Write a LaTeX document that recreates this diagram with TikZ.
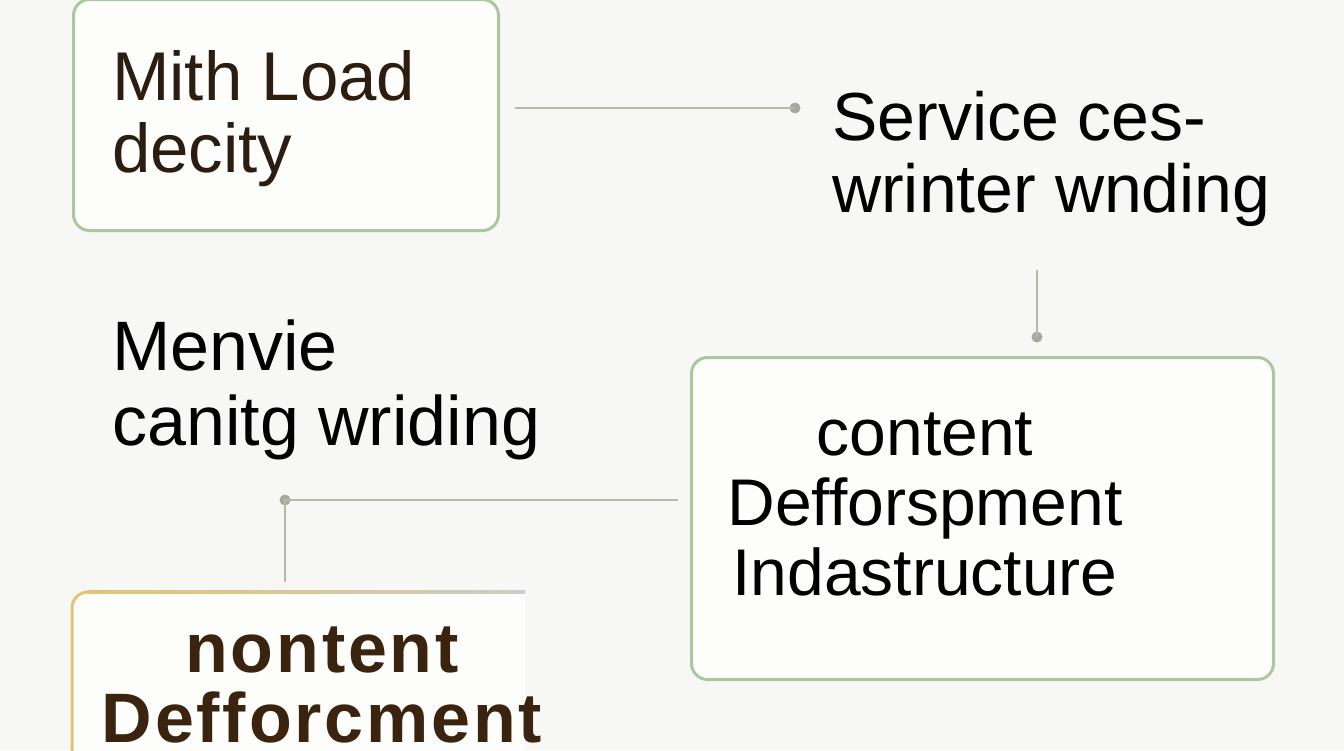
\documentclass[tikz,border=0pt]{standalone}
\usepackage{fontspec}
\setmainfont{Liberation Sans}
\definecolor{bgc}{HTML}{F7F7F5}
\definecolor{boxfill}{HTML}{FDFDFC}
\definecolor{boxgreen}{HTML}{A9C99C}
\definecolor{linegrey}{HTML}{B3BAAB}
\definecolor{dotgrey}{HTML}{A3AA9B}
\definecolor{brownink}{HTML}{2B1D10}
\definecolor{darkbrown}{HTML}{3A2410}
\definecolor{goldc}{HTML}{E2C574}
\begin{document}
\begin{tikzpicture}[x=1pt,y=-1pt,
  gbox/.style={draw=boxgreen, line width=3pt, fill=boxfill, rounded corners=16pt},
  conn/.style={draw=linegrey, line width=1.8pt},
  dotc/.style={circle, fill=dotgrey, inner sep=0pt, minimum size=11pt},
  lbl/.style={inner sep=0pt, align=left},
  lblc/.style={inner sep=0pt, align=center}]
\fill[bgc] (0,0) rectangle (1344,750);
\useasboundingbox (0,0) rectangle (1344,750);
% boxes
\node[gbox, minimum width=425pt, minimum height=231pt, anchor=north west] (b1) at (72,-2) {};
\node[gbox, minimum width=582pt, minimum height=322pt, anchor=north west] (b3) at (690,356) {};
% bottom-left box (open)
\fill[boxfill] (72,760) -- (72,608) arc[start angle=180, end angle=270, radius=16] -- (525,592) -- (525,760) -- cycle;
\draw[goldc, line width=3pt] (72,760) -- (72,608) arc[start angle=180, end angle=270, radius=16] coordinate (b4c);
\shade[left color=goldc, right color=linegrey!70] (87.5,590.5) rectangle (525,593.5);
% texts
\node[lbl, text=brownink, anchor=base west, font=\fontsize{69}{72}\selectfont] (t1) at (112,172) {Mith Load\\decity};
\node[lbl, text=black, anchor=base west, font=\fontsize{68}{72}\selectfont] (t2) at (832,212) {Service ces-\\wrinter wnding};
\node[lbl, text=black, anchor=base west, font=\fontsize{70}{75}\selectfont] (t3) at (112,445) {Menvie\\canitg wriding};
\node[lblc, text=black, anchor=base, font=\fontsize{66}{70}\selectfont] (t4) at (925,595) {content\\Defforspment\\Indastructure};
\node[lblc, text=darkbrown, anchor=base, font=\fontsize{70}{70}\selectfont\bfseries\addfontfeatures{LetterSpace=4}] (t5) at (322,742) {nontent\\Defforcment};
% connectors
\coordinate (c1s) at (515,108);
\node[dotc] (d1) at (795,108) {};
\draw[conn] (c1s) -- (d1.center);
\coordinate (c2s) at (1037,270);
\node[dotc] (d2) at (1037,337) {};
\draw[conn] (c2s) -- (d2.center);
\coordinate (c3s) at (678,500);
\node[dotc] (d3) at (285,500) {};
\draw[conn] (c3s) -- (d3.center) -- (285,582);
\end{tikzpicture}
\end{document}
